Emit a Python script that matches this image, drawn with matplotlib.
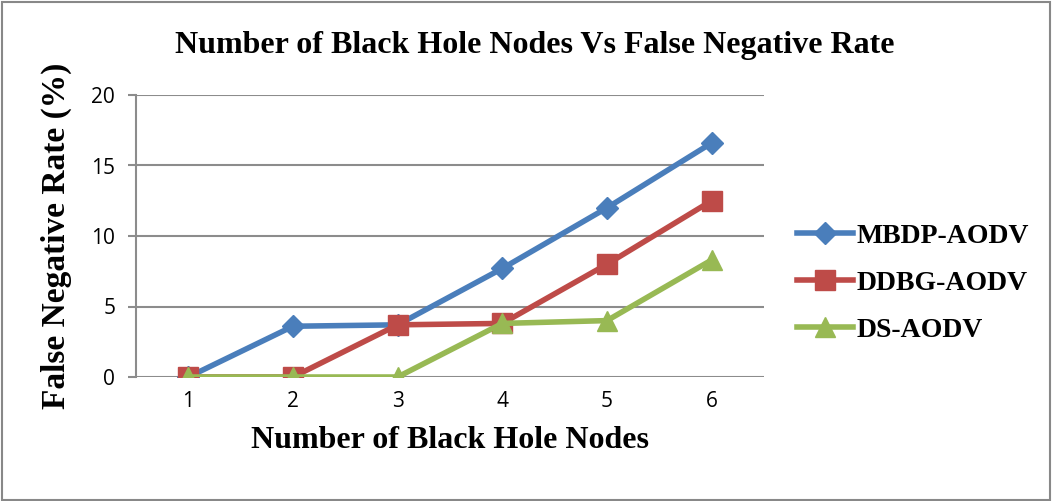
import matplotlib.pyplot as plt
from matplotlib.patches import Rectangle

nodes = [1, 2, 3, 4, 5, 6]
mbdp = [0, 3.6, 3.7, 7.7, 12.0, 16.6]
ddbg = [0, 0, 3.7, 3.8, 8.0, 12.5]
ds = [0, 0, 0, 3.8, 4.0, 8.3]
yticks = [0, 5, 10, 15, 20]

serif = ['Liberation Serif', 'DejaVu Serif']

fig = plt.figure(figsize=(10.52, 5.01), dpi=100)
ax = fig.add_axes([136 / 1052, 1 - 377 / 501, (764 - 136) / 1052, (377 - 95) / 501])

# outer frame of the chart
fig.patches.append(Rectangle((0.002, 0.002), 0.996, 0.994, transform=fig.transFigure,
                             fill=False, edgecolor='#888888', linewidth=1.5))

ax.plot(nodes, mbdp, color='#4a7ebb', linewidth=4, marker='D', markersize=11, label='MBDP-AODV')
ax.plot(nodes, ddbg, color='#be4b48', linewidth=4, marker='s', markersize=14, label='DDBG-AODV')
ax.plot(nodes, ds, color='#98b954', linewidth=4, marker='^', markersize=15, label='DS-AODV')

ax.set_xlim(0.5, 6.5)
ax.set_ylim(0, 20)
ax.set_yticks(yticks)
ax.set_xticks(nodes)
ax.yaxis.grid(True, color='#8c8c8c', linewidth=1.5)
ax.set_axisbelow(True)
for s in ['top', 'right', 'bottom']:
    ax.spines[s].set_visible(False)
ax.spines['left'].set_color('#8c8c8c')
ax.spines['left'].set_linewidth(1.5)
ax.tick_params(axis='y', length=6, color='#8c8c8c', width=1.5, labelsize=15, pad=9)
ax.tick_params(axis='x', length=0, labelsize=15, pad=10)
for lbl in ax.get_xticklabels() + ax.get_yticklabels():
    lbl.set_family(['Open Sans', 'DejaVu Sans'])

ax.set_xlabel('Number of Black Hole Nodes', fontsize=23, fontweight='bold', family=serif, labelpad=10)
ax.set_ylabel('False Negative Rate (%)', fontsize=24, fontweight='bold', family=serif, labelpad=14)
fig.text(0.508, 0.91, 'Number of Black Hole Nodes Vs False Negative Rate', ha='center', va='center',
         fontsize=23, fontweight='bold', family=serif)

fig.legend(handles=ax.get_lines(), loc='center left', bbox_to_anchor=(797 / 1052, 1 - 283 / 501),
           bbox_transform=fig.transFigure, frameon=False, borderpad=0, borderaxespad=0,
           prop={'family': serif, 'weight': 'bold', 'size': 20},
           handlelength=2.0, handletextpad=0.15, labelspacing=0.78)

fig.savefig('out.png', dpi=100)
